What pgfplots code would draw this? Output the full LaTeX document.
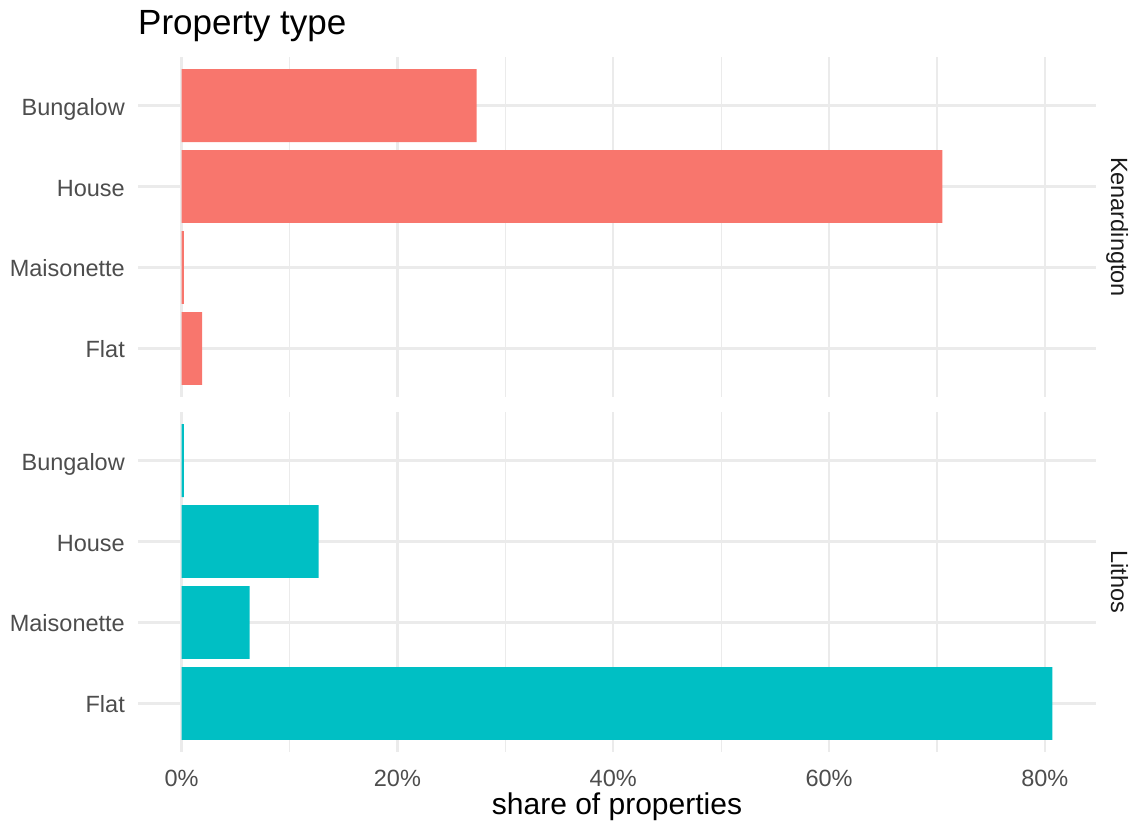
\documentclass[border=0pt]{standalone}
\usepackage{fontspec}
\setmainfont{Liberation Sans}
\usepackage{pgfplots}
\pgfplotsset{compat=1.18}
\definecolor{kcol}{HTML}{F8766D}
\definecolor{lcol}{HTML}{00BFC4}
\definecolor{gridc}{HTML}{EBEBEB}
\definecolor{tickc}{HTML}{4D4D4D}
\definecolor{stripc}{HTML}{1A1A1A}
\pgfplotsset{facet/.style={
  scale only axis, width=958bp, height=340bp,
  xmin=-4.04, xmax=84.74, ymin=0.4, ymax=4.6,
  clip=false,
  axis line style={draw=none},
  major tick length=0pt, minor tick length=0pt,
  xtick={0,20,40,60,80}, minor xtick={10,30,50,70},
  ytick={1,2,3,4}, yticklabels={Flat,Maisonette,House,Bungalow},
  xmajorgrids, ymajorgrids, xminorgrids,
  major grid style={gridc, line width=2.2bp},
  minor grid style={gridc, line width=1.2bp},
  yticklabel style={font=\fontsize{23.5bp}{28bp}\selectfont, text=tickc, anchor=base east, inner sep=0pt, xshift=-13bp, yshift=-9.5bp},
  xticklabel style={font=\fontsize{23.5bp}{28bp}\selectfont, text=tickc, anchor=base, inner sep=0pt, yshift=-34bp},
  xbar, bar width=0.9, bar shift=0pt,
}}
\begin{document}
\begin{tikzpicture}
\useasboundingbox (0,0) rectangle (1130bp,-822bp);
\begin{axis}[facet, at={(138bp,-57bp)}, anchor=north west, xticklabels={}]
\addplot[fill=kcol, draw=none] coordinates {(27.35,4) (70.5,3) (0.2,2) (1.9,1)};
\node[rotate=-90, text=stripc, inner sep=0pt, font=\fontsize{23.5bp}{28bp}\selectfont, anchor=base, yshift=15bp] at (axis description cs:1,0.5) {Kenardington};
\node[anchor=base west, inner sep=0pt, font=\fontsize{35bp}{40bp}\selectfont, yshift=23bp] at (axis description cs:0,1) {Property type};
\end{axis}
\begin{axis}[facet, at={(138bp,-412bp)}, anchor=north west, xticklabels={0\%,20\%,40\%,60\%,80\%}]
\addplot[fill=lcol, draw=none] coordinates {(0.2,4) (12.7,3) (6.3,2) (80.7,1)};
\node[rotate=-90, text=stripc, inner sep=0pt, font=\fontsize{23.5bp}{28bp}\selectfont, anchor=base, yshift=15bp] at (axis description cs:1,0.5) {Lithos};
\node[anchor=base, inner sep=0pt, font=\fontsize{30bp}{36bp}\selectfont, yshift=-62bp] at (axis description cs:0.5,0) {share of properties};
\end{axis}
\end{tikzpicture}
\end{document}
